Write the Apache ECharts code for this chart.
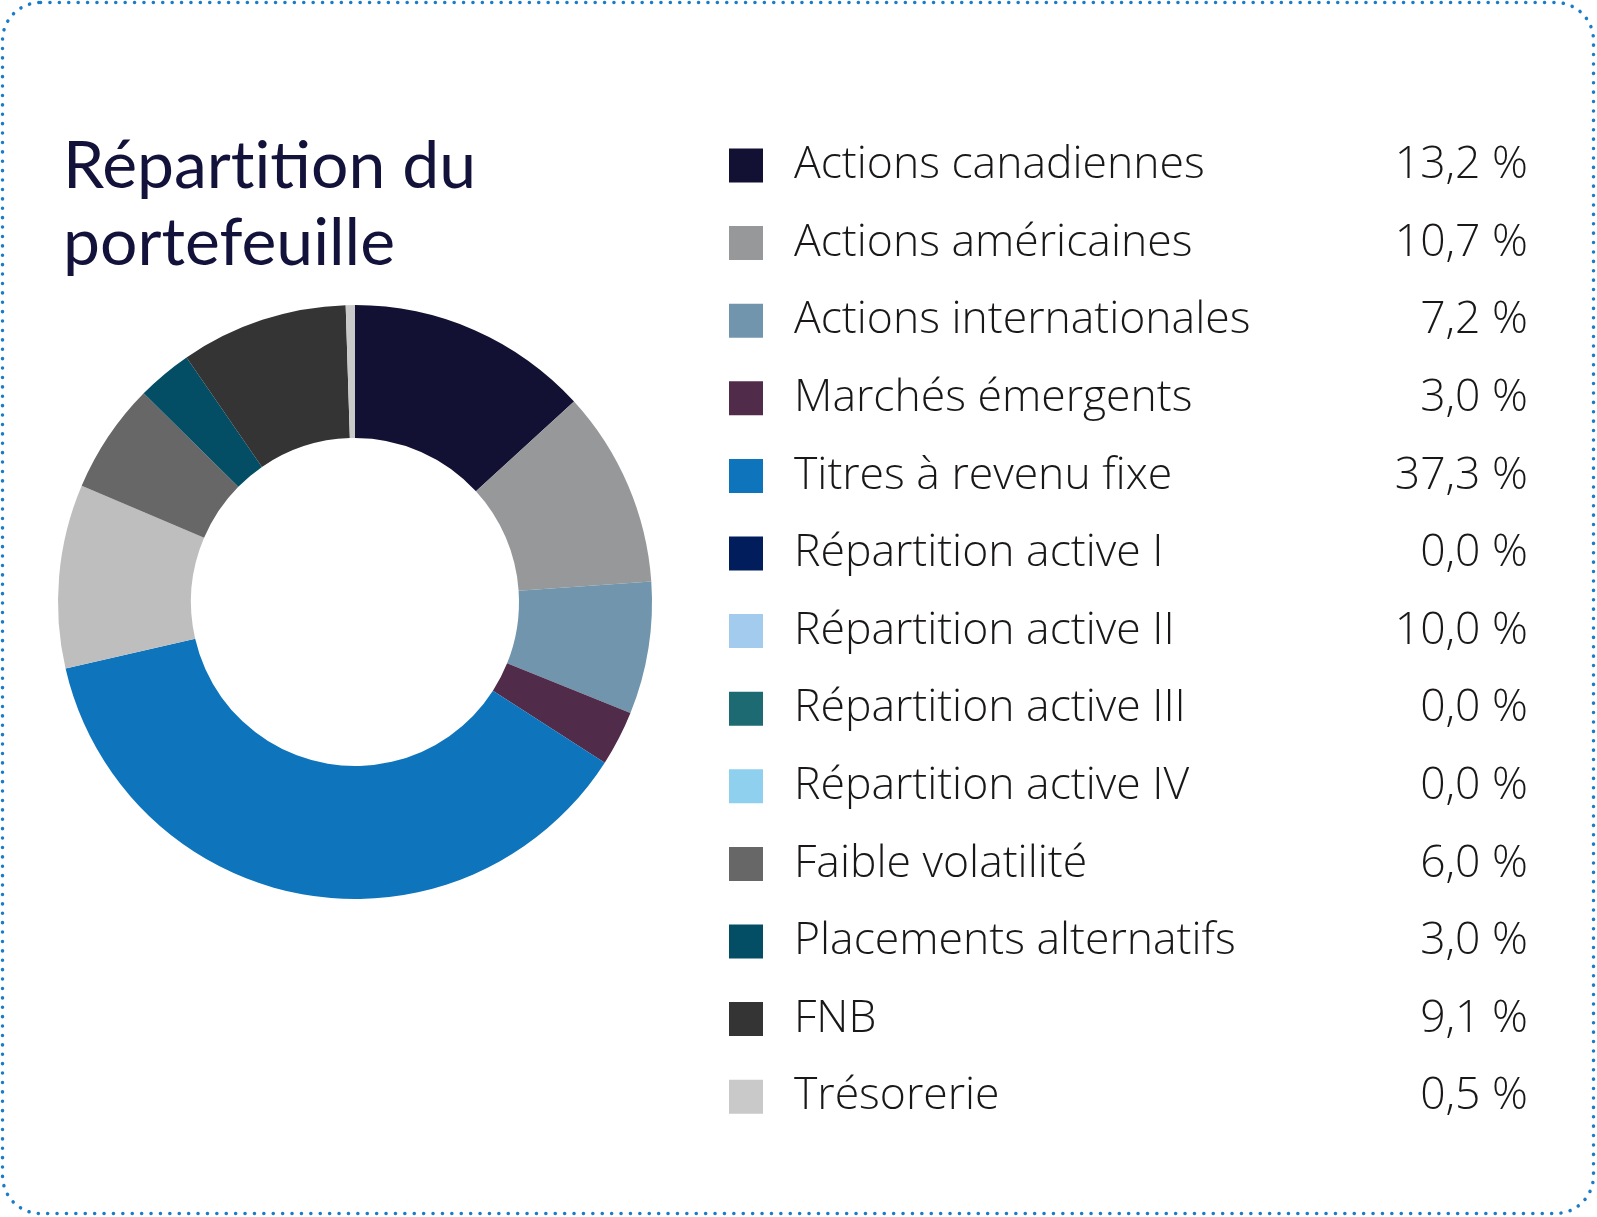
<!DOCTYPE html>
<html>
<head>
<meta charset="utf-8">
<script src="https://cdn.jsdelivr.net/npm/echarts@6/dist/echarts.min.js"></script>
<style>
  html, body { margin: 0; padding: 0; background: #fff; }
  #chart { width: 1597px; height: 1217px; }
</style>
</head>
<body>
<div id="chart"></div>
<script>
"use strict";

// Portfolio breakdown, values in percent
const categories = [
  "Actions canadiennes",
  "Actions américaines",
  "Actions internationales",
  "Marchés émergents",
  "Titres à revenu fixe",
  "Répartition active I",
  "Répartition active II",
  "Répartition active III",
  "Répartition active IV",
  "Faible volatilité",
  "Placements alternatifs",
  "FNB",
  "Trésorerie"
];
const values = [13.2, 10.7, 7.2, 3.0, 37.3, 0.0, 10.0, 0.0, 0.0, 6.0, 3.0, 9.1, 0.5];

// slice colours (the donut draws "Répartition active II" in grey)
const sliceColors = ["#131133", "#97989a", "#7095ad", "#512b4a", "#0e75bc", "#021d5c",
  "#bebebe", "#1d6a73", "#8fd0ef", "#676767", "#044e65", "#343434", "#c9c9c9"];
// legend swatch colours
const legendColors = ["#131133", "#97989a", "#7095ad", "#512b4a", "#0e75bc", "#021d5c",
  "#a3cbed", "#1d6a73", "#8fd0ef", "#676767", "#044e65", "#343434", "#c9c9c9"];

const fmt = v => v.toFixed(1).replace(".", ",") + " %";

const chart = echarts.init(document.getElementById("chart"));

const pieData = categories.map((c, i) => ({
  name: c,
  value: values[i],
  itemStyle: { color: sliceColors[i] }
}));

const legendData = categories.map((c, i) => ({
  name: c,
  icon: "rect",
  itemStyle: { color: legendColors[i] }
}));

const txt = {
  fontFamily: "Open Sans",
  fontWeight: 300,
  fontSize: 44.5,
  color: "#1a1718"
};

const option = {
  backgroundColor: "#fff",
  animation: false,
  title: {
    // zero-width non-joiner keeps Lato from using its "ti" ligature
    text: "Répart\u200Cition du\nportefeuille",
    left: 58,
    top: 123,
    textStyle: {
      fontFamily: "Lato",
      fontWeight: "normal",
      fontSize: 66,
      lineHeight: 77,
      color: "#13123a"
    }
  },
  legend: {
    orient: "vertical",
    left: 724,
    top: 138,
    height: 1150,
    itemWidth: 34,
    itemHeight: 34,
    itemGap: 32.6,
    selectedMode: false,
    data: legendData,
    formatter: name => {
      const i = categories.indexOf(name);
      return "{n|" + name + "}{v|" + fmt(values[i]) + "}";
    },
    textStyle: {
      rich: {
        n: Object.assign({ width: 556, padding: [0, 0, 0, 26] }, txt),
        v: Object.assign({ width: 178, align: "right" }, txt)
      }
    }
  },
  graphic: [
    {
      type: "rect",
      shape: { x: 2.5, y: 2.5, width: 1591, height: 1211, r: 38 },
      style: {
        fill: null,
        stroke: "#1a7cc8",
        lineWidth: 3.5,
        lineDash: [0.1, 9.3],
        lineCap: "round"
      },
      silent: true
    }
  ],
  series: [
    {
      type: "pie",
      center: [355, 602],
      radius: [164, 297],
      startAngle: 90,
      clockwise: true,
      label: { show: false },
      labelLine: { show: false },
      emphasis: { disabled: true },
      data: pieData
    }
  ]
};

chart.setOption(option);
</script>
</body>
</html>
